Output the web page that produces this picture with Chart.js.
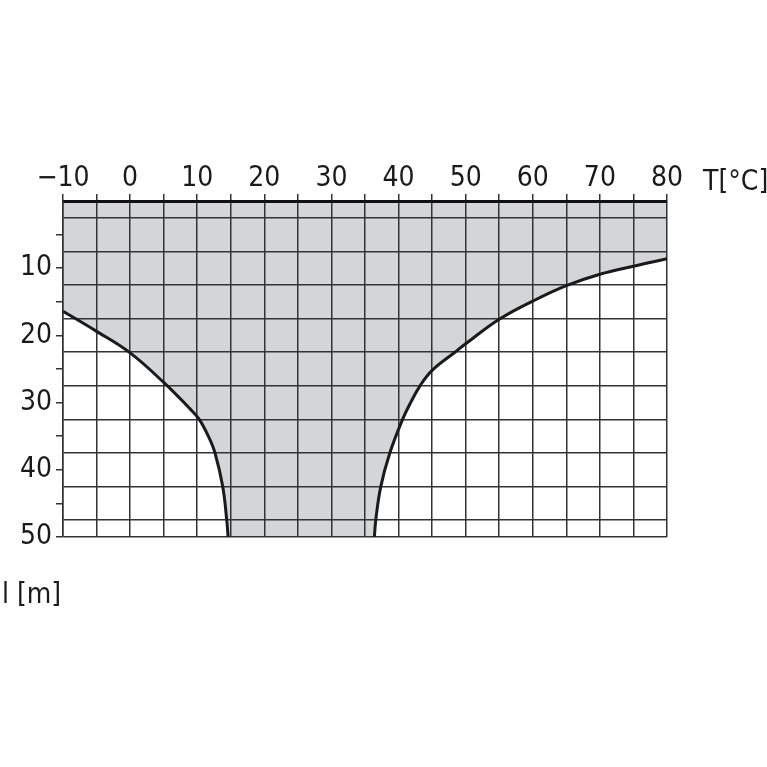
<!DOCTYPE html>
<html>
<head>
<meta charset="utf-8">
<script src="https://cdn.jsdelivr.net/npm/chart.js@4"></script>
<style>
  body { margin: 0; background: #fff; }
  #wrap { width: 767px; height: 767px; }
</style>
</head>
<body>
<div id="wrap"><canvas id="chart" width="767" height="767"></canvas></div>
<script>
// left boundary curve: temperature T [°C] vs depth l [m]
const leftT = [-10, -5, 0, 5, 8.9, 10.3, 11.65, 12.65, 13.8, 14.4, 14.6];
const leftL = [16.4, 19.4, 22.6, 27.0, 30.9, 32.5, 35.0, 37.5, 42.5, 47.5, 50];

// right boundary curve
const rightT = [36.4, 36.6, 37.35, 38.7, 40.6, 41.8, 43.2, 45, 48.4, 50.2, 55, 60, 65, 70, 75, 80];
const rightL = [50, 47.5, 42.5, 37.5, 32.5, 30.0, 27.5, 25.2, 22.5, 21.1, 17.6, 14.9, 12.6, 10.9, 9.7, 8.6];

// tick labels shown on the axes
const tempLabels = [-10, 0, 10, 20, 30, 40, 50, 60, 70, 80];
const depthLabels = [10, 20, 30, 40, 50];

const FONT = "'Liberation Sans Narrow', 'DejaVu Sans Condensed', sans-serif";
const GRID = '#333';
const SHADE = '#d4d5d7';

const toPoints = (xs, ys) => xs.map((x, i) => ({ x: x, y: ys[i] }));

// gap between the two curves along the bottom edge (slight overlap hides the seam)
const middle = [
  { x: leftT[leftT.length - 1] - 0.15, y: 50 },
  { x: rightT[0] + 0.15, y: 50 }
];

const axisTitles = {
  id: 'axisTitles',
  afterDraw(chart) {
    const c = chart.ctx;
    c.save();
    c.fillStyle = '#1a1a1a';
    c.font = '28px ' + FONT;
    c.textAlign = 'left';
    c.textBaseline = 'alphabetic';
    c.fillText('T[°C]', 703, 190);
    c.fillText('l [m]', 2, 603);
    c.restore();
  }
};

const curve = (xs, ys) => ({
  data: toPoints(xs, ys),
  borderColor: '#1a1a1a',
  borderWidth: 3,
  backgroundColor: SHADE,
  fill: { value: 0 },
  pointRadius: 0,
  tension: 0.4
});

const ctx = document.getElementById('chart').getContext('2d');
new Chart(ctx, {
  type: 'line',
  data: {
    datasets: [
      curve(leftT, leftL),
      curve(rightT, rightL),
      {
        data: middle,
        borderColor: 'rgba(0,0,0,0)',
        borderWidth: 0,
        backgroundColor: SHADE,
        fill: { value: 0 },
        pointRadius: 0
      }
    ]
  },
  options: {
    responsive: false,
    animation: false,
    layout: { padding: { top: 151, left: 0, right: 100, bottom: 230 } },
    plugins: {
      legend: { display: false },
      tooltip: { enabled: false },
      filler: { drawTime: 'beforeDraw' } // keep the grid on top of the shading
    },
    scales: {
      x: {
        type: 'linear',
        position: 'top',
        min: -10,
        max: 80,
        afterFit: (s) => { s.height = 50; },
        border: { display: true, color: '#111', width: 3 },
        grid: { color: GRID, lineWidth: 1.5, tickLength: 7, tickColor: GRID },
        ticks: {
          stepSize: 5,
          autoSkip: false,
          maxRotation: 0,
          padding: -2,
          color: '#1a1a1a',
          font: { family: FONT, size: 28 },
          callback: (v) => tempLabels.includes(v) ? String(v).replace('-', '\u2212') : ''
        }
      },
      y: {
        type: 'linear',
        reverse: true,
        min: 0,
        max: 50,
        afterFit: (s) => { s.width = 63; },
        border: { display: true, color: GRID, width: 1.5 },
        grid: {
          lineWidth: 1.5,
          tickLength: 7,
          color: (c) => {
            const v = c.tick ? c.tick.value : 0;
            if (v === 50) return GRID;
            return v % 5 === 0 ? 'rgba(0,0,0,0)' : GRID;
          },
          tickColor: (c) => {
            const v = c.tick ? c.tick.value : 0;
            return (v % 5 === 0 && v !== 0) ? GRID : 'rgba(0,0,0,0)';
          }
        },
        ticks: {
          stepSize: 2.5,
          autoSkip: false,
          padding: 4,
          color: '#1a1a1a',
          font: { family: FONT, size: 28 },
          callback: (v) => depthLabels.includes(v) ? String(v) : ''
        }
      }
    }
  },
  plugins: [axisTitles]
});
</script>
</body>
</html>
